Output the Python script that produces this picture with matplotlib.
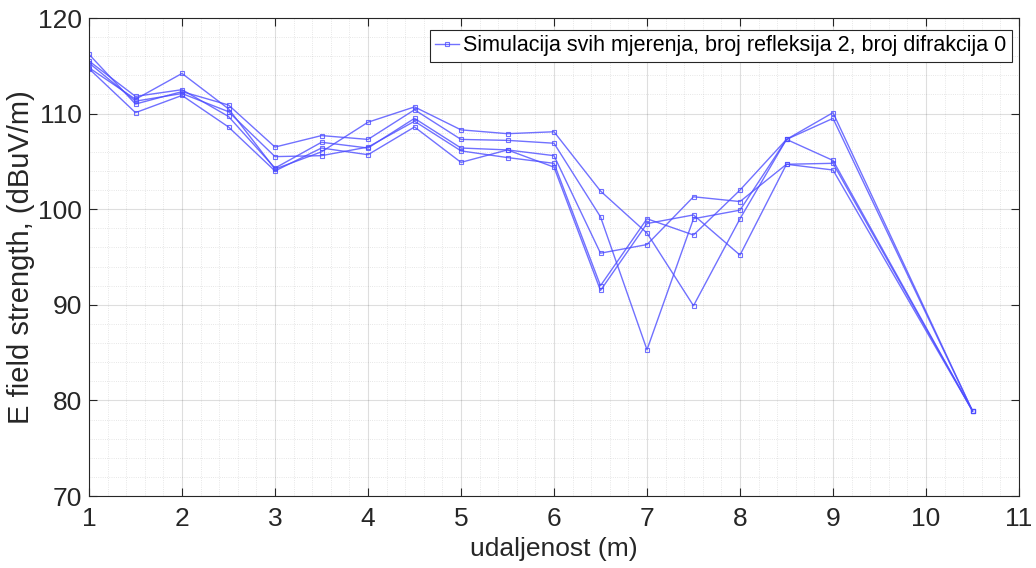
import matplotlib
matplotlib.use("Agg")
import matplotlib.pyplot as plt
from matplotlib.ticker import MultipleLocator
from matplotlib import font_manager

names = {f.name for f in font_manager.fontManager.ttflist}
fam = ['Liberation Sans Narrow', 'Liberation Sans', 'DejaVu Sans']
fam = [f for f in fam if f in names] or ['DejaVu Sans']
plt.rcParams['font.family'] = fam

x = [1, 1.5, 2, 2.5, 3, 3.5, 4, 4.5, 5, 5.5, 6, 6.5, 7, 7.5, 8, 8.5, 9, 10.5]

series_a = [114.8, 111.5, 114.2, 110.5, 104.2, 106.0, 109.1, 110.7, 108.3, 107.9, 108.1,
            101.9, 97.5, 89.9, 99.0, 107.3, 105.1, 78.9]
series_b = [116.2, 111.0, 112.3, 110.9, 106.5, 107.7, 107.3, 110.4, 107.3, 107.2, 106.9,
            99.2, 85.3, 99.0, 99.9, 107.3, 109.5, 78.9]
series_c = [115.5, 111.8, 112.5, 109.7, 104.3, 107.0, 106.4, 109.5, 106.4, 106.2, 105.6,
            95.4, 96.3, 101.3, 100.8, 104.7, 104.8, 78.9]
series_d = [115.3, 111.3, 112.1, 110.2, 105.5, 105.6, 106.5, 109.2, 106.1, 105.4, 104.8,
            92.0, 99.0, 97.3, 102.0, 107.3, 110.1, 78.9]
series_e = [114.7, 110.1, 111.9, 108.6, 104.0, 106.4, 105.7, 108.6, 104.9, 106.2, 104.4,
            91.5, 98.5, 99.4, 95.2, 104.7, 104.1, 78.9]

all_series = [series_a, series_b, series_c, series_d, series_e]
legend_label = 'Simulacija svih mjerenja, broj refleksija 2, broj difrakcija 0'

W, H = 1036, 568
fig = plt.figure(figsize=(W / 100, H / 100), dpi=100)
ax = fig.add_axes([89 / W, 1 - 496 / H, (1019 - 89) / W, (496 - 18) / H])

line_col = (0.3, 0.3, 1.0)
for i, s in enumerate(all_series):
    ax.plot(x, s, color=line_col, alpha=0.8, lw=1.0, marker='s', ms=3.5,
            mfc='none', mec=line_col, mew=0.8,
            label=legend_label if i == 0 else None)

ax.set_xlim(1, 11)
ax.set_ylim(70, 120)
ax.xaxis.set_major_locator(MultipleLocator(1))
ax.xaxis.set_minor_locator(MultipleLocator(0.2))
ax.yaxis.set_major_locator(MultipleLocator(10))
ax.yaxis.set_minor_locator(MultipleLocator(2))

dark = (0.15, 0.15, 0.15)
ax.grid(True, which='major', color=dark, alpha=0.15, lw=0.8)
ax.grid(True, which='minor', color=dark, alpha=0.15, lw=0.6, ls=':')
ax.set_axisbelow(True)

ax.tick_params(which='both', direction='in', top=True, right=True, colors=dark,
               labelsize=19, labelcolor=dark)
ax.tick_params(which='major', length=6)
ax.tick_params(axis='x', which='major', pad=8)
ax.tick_params(axis='y', which='major', pad=5)
ax.tick_params(which='minor', length=0)
for sp in ax.spines.values():
    sp.set_color(dark)
    sp.set_linewidth(0.8)

ax.set_xlabel('udaljenost (m)', fontsize=19, color=dark, labelpad=4)
ax.set_ylabel('E field strength, (dBuV/m)', fontsize=21, color=dark)
ax.yaxis.set_label_coords((35 - 89) / 930, 0.5)

leg = ax.legend(loc='upper right', bbox_to_anchor=(1012 / W, 1 - 30 / H),
                bbox_transform=fig.transFigure, fontsize=15.5, frameon=True,
                fancybox=False, edgecolor=dark, framealpha=1, borderpad=0.25,
                handlelength=1.1, handletextpad=0.2, borderaxespad=0)
leg.get_frame().set_linewidth(0.8)

fig.savefig('out.png', dpi=100)
